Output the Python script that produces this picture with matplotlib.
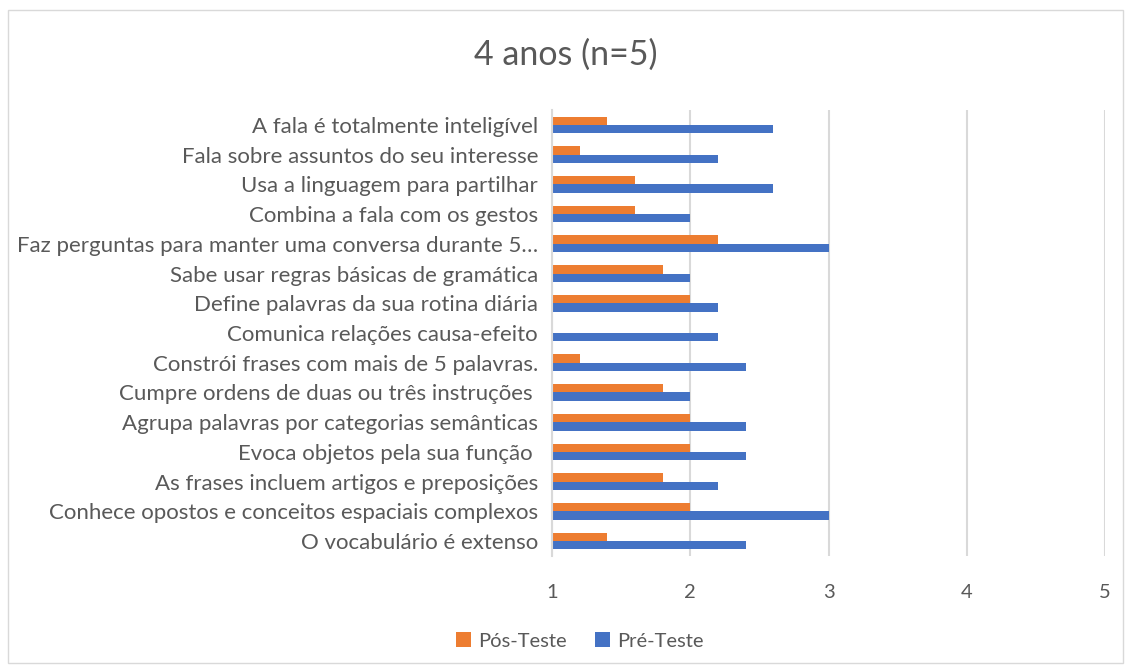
import numpy as np
import matplotlib
matplotlib.use("Agg")
import matplotlib.pyplot as plt
from matplotlib.patches import Rectangle

plt.rcParams['font.family'] = ['Lato', 'DejaVu Sans']

categories = [
    "A fala é totalmente inteligível",
    "Fala sobre assuntos do seu interesse",
    "Usa a linguagem para partilhar",
    "Combina a fala com os gestos",
    "Faz perguntas para manter uma conversa durante 5…",
    "Sabe usar regras básicas de gramática",
    "Define palavras da sua rotina diária",
    "Comunica relações causa-efeito",
    "Constrói frases com mais de 5 palavras.",
    "Cumpre ordens de duas ou três instruções ",
    "Agrupa palavras por categorias semânticas",
    "Evoca objetos pela sua função ",
    "As frases incluem artigos e preposições",
    "Conhece opostos e conceitos espaciais complexos",
    "O vocabulário é extenso",
]
pos_teste = [1.4, 1.2, 1.6, 1.6, 2.2, 1.8, 2.0, 1.0, 1.2, 1.8, 2.0, 2.0, 1.8, 2.0, 1.4]
pre_teste = [2.6, 2.2, 2.6, 2.0, 3.0, 2.0, 2.2, 2.2, 2.4, 2.0, 2.4, 2.4, 2.2, 3.0, 2.4]
x_ticks = [1, 2, 3, 4, 5]

orange = "#ED7D31"
blue = "#4472C4"
grey = "#595959"

fig = plt.figure(figsize=(11.31, 6.72), dpi=100)
ax = fig.add_axes([552 / 1131, 1 - 556 / 672, (1105 - 552) / 1131, (556 - 110) / 672])

y = np.arange(len(categories))
h = 0.28
ax.barh(y - h / 2, np.array(pos_teste) - 1, left=1, height=h, color=orange, label="Pós-Teste")
ax.barh(y + h / 2, np.array(pre_teste) - 1, left=1, height=h, color=blue, label="Pré-Teste")

ax.set_xlim(1, 5)
ax.set_ylim(len(categories) - 0.5, -0.5)
ax.set_xticks(x_ticks)
ax.set_xticklabels([str(t) for t in x_ticks])
ax.set_yticks(y)
ax.set_yticklabels(categories)
ax.tick_params(axis='both', length=0, colors=grey)
ax.tick_params(axis='x', pad=20, labelsize=14.5)
ax.tick_params(axis='y', pad=10, labelsize=16)
ax.grid(axis='x', color="#d9d9d9", linewidth=1.5)
ax.set_axisbelow(True)
for s in ['top', 'right', 'bottom']:
    ax.spines[s].set_visible(False)
ax.spines['left'].set_color("#d9d9d9")
ax.spines['left'].set_linewidth(1.5)

fig.text(0.5, 1 - 55 / 672, "4 anos (n=5)", ha='center', va='center', fontsize=24.5, color=grey)

handles, labels = ax.get_legend_handles_labels()
fig.legend(handles, labels, loc='center', bbox_to_anchor=(580 / 1131, 1 - 641 / 672), ncol=2,
           frameon=False, fontsize=14.5, labelcolor=grey, handlelength=0.75, handleheight=0.75,
           handletextpad=0.35, columnspacing=1.4)

fig.patches.append(Rectangle((8 / 1131, 1 - 663 / 672), 1115 / 1131, 653 / 672,
                             transform=fig.transFigure, fill=False, edgecolor="#d9d9d9", linewidth=1))

fig.savefig("out.png", dpi=100)
